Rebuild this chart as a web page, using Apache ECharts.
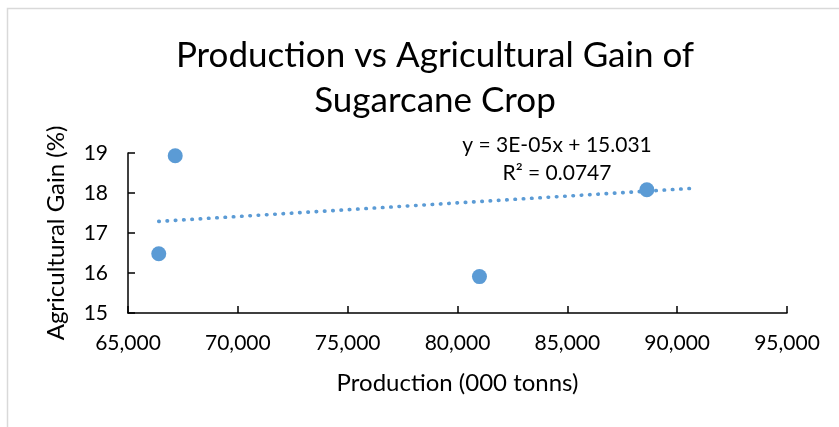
<!DOCTYPE html>
<html>
<head>
<meta charset="utf-8">
<script src="https://cdn.jsdelivr.net/npm/echarts@6/dist/echarts.min.js"></script>
<style>
  html, body { margin: 0; padding: 0; background: #fff; }
  #chart { width: 839px; height: 427px; }
</style>
</head>
<body>
<div id="chart"></div>
<script>
  // values
  let production = [66400, 67150, 81000, 88620]
  let agriGain = [16.48, 18.93, 15.91, 18.08]
  // dotted linear trendline ends (as drawn)
  let trendX = [66400, 90780]
  let trendY = [17.29, 18.12]
  let equationLines = ['y = 3E-05x + 15.031', 'R² = 0.0747']

  let points = production.map((x, i) => [x, agriGain[i]])
  let trend = trendX.map((x, i) => [x, trendY[i]])

  let fontName = 'Lato, "Open Sans", sans-serif'
  let myChart = echarts.init(document.getElementById('chart'))
  myChart.setOption({
    animation: false,
    title: {
      text: 'Production vs Agricultural Gain of\nSugarcane Crop',
      left: 430,
      textAlign: 'center',
      top: 28,
      textStyle: {
        fontFamily: fontName,
        fontWeight: 'normal',
        fontSize: 35,
        lineHeight: 45,
        color: '#000'
      }
    },
    graphic: [
      {
        type: 'rect',
        shape: { x: 7.5, y: 8.5, width: 900, height: 500 },
        style: { fill: 'none', stroke: '#d9d9d9', lineWidth: 1.5 },
        silent: true
      },
      {
        type: 'text',
        x: 557,
        y: 159,
        silent: true,
        style: {
          text: equationLines.join('\n'),
          align: 'center',
          verticalAlign: 'middle',
          fontFamily: fontName,
          fontSize: 21,
          lineHeight: 28,
          fill: '#000'
        }
      }
    ],
    grid: {
      left: 128,
      right: 52,
      top: 153,
      bottom: 114,
      containLabel: false
    },
    xAxis: {
      type: 'value',
      min: 65000,
      max: 95000,
      interval: 5000,
      name: 'Production (000 tonns)',
      nameLocation: 'middle',
      nameGap: 58,
      nameTextStyle: { fontFamily: fontName, fontSize: 24, color: '#000' },
      axisLine: { show: true, lineStyle: { color: '#000', width: 1.5 } },
      axisTick: { show: true, inside: true, length: 7, lineStyle: { color: '#000', width: 1.5 } },
      axisLabel: {
        fontFamily: fontName,
        fontSize: 21,
        color: '#000',
        margin: 20,
        formatter: function (v) { return v.toLocaleString('en-US') }
      },
      splitLine: { show: false }
    },
    yAxis: {
      type: 'value',
      min: 15,
      max: 19,
      interval: 1,
      name: 'Agricultural Gain (%)',
      nameLocation: 'middle',
      nameGap: 60,
      nameTextStyle: { fontFamily: fontName, fontSize: 24, color: '#000' },
      axisLine: { show: true, lineStyle: { color: '#000', width: 1.5 } },
      axisTick: { show: true, inside: true, length: 7, lineStyle: { color: '#000', width: 1.5 } },
      axisLabel: { fontFamily: fontName, fontSize: 21, color: '#000', margin: 20 },
      splitLine: { show: false }
    },
    series: [
      {
        name: 'Trendline',
        type: 'line',
        data: trend,
        symbol: 'none',
        silent: true,
        lineStyle: { color: '#5B9BD5', width: 3.6, type: [0.5, 7.8], cap: 'round' },
        z: 1
      },
      {
        name: 'Agricultural Gain',
        type: 'scatter',
        data: points,
        symbolSize: 15,
        itemStyle: { color: '#5B9BD5', opacity: 1 },
        z: 2
      }
    ]
  })
</script>
</body>
</html>
